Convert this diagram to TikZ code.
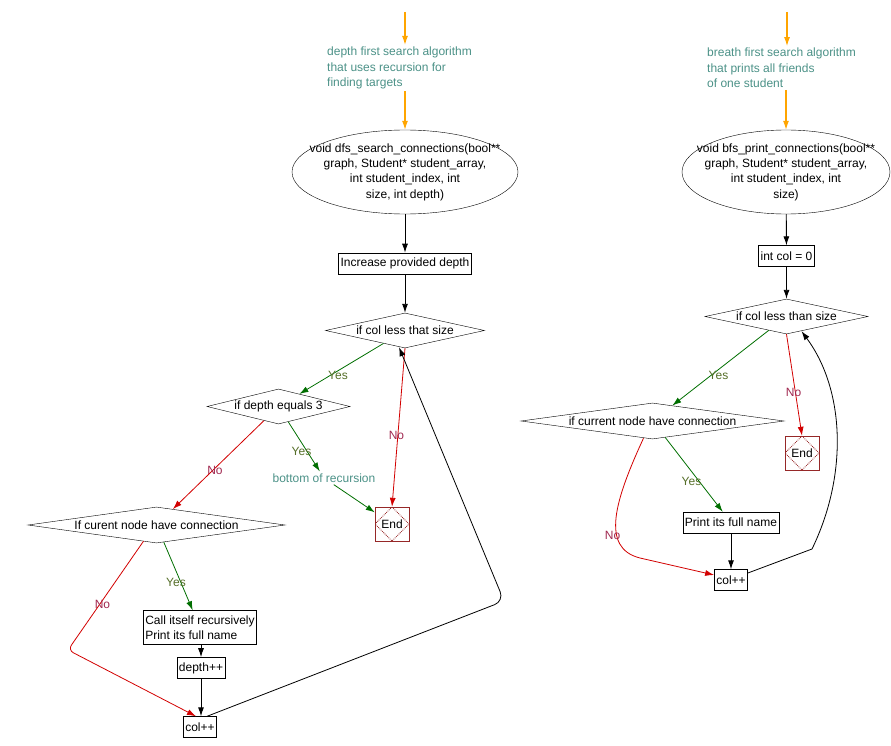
\documentclass[tikz,border=0pt]{standalone}
\usepackage{fontspec}
\setmainfont{Liberation Sans}
\usetikzlibrary{arrows.meta,shapes.geometric,positioning,calc}
\definecolor{notecol}{RGB}{75,145,135}
\definecolor{yescol}{RGB}{0,110,0}
\definecolor{yestext}{RGB}{85,110,40}
\definecolor{nocol}{RGB}{210,0,0}
\definecolor{notext}{RGB}{160,40,80}
\definecolor{endcol}{RGB}{150,40,40}
\definecolor{feedcol}{RGB}{255,165,0}

\begin{document}
\begin{tikzpicture}[x=1pt,y=-1pt,
    font=\fontsize{12}{15.3}\selectfont,
    >={Latex[length=9pt,width=6pt]},
    func/.style={draw, ellipse, align=center, inner xsep=-24pt, inner ysep=0pt,
        minimum width=226pt, minimum height=84pt},
    process/.style={draw, rectangle, inner xsep=2pt, inner ysep=5pt, minimum height=21pt},
    decision/.style={draw, diamond, inner sep=0pt},
    stopbox/.style={draw=endcol, rectangle, minimum size=34pt, inner sep=0pt,
        path picture={\draw[endcol, densely dotted, line width=0.8pt]
            (path picture bounding box.north) -- (path picture bounding box.east) --
            (path picture bounding box.south) -- (path picture bounding box.west) -- cycle;}},
    note/.style={text=notecol, align=left, inner sep=2pt},
    yeslab/.style={text=yestext, inner sep=1pt},
    nolab/.style={text=notext, inner sep=1pt},
    flow/.style={line width=0.9pt},
    feed/.style={feedcol, line width=1.1pt},
    yesline/.style={yescol, line width=0.8pt},
    noline/.style={nocol, line width=0.8pt},
    loopline/.style={black, line width=0.8pt}]

    \useasboundingbox (0,0) rectangle (891,746);

    % depth first search
    \coordinate (dfstop) at (405,12);
    \node[note, anchor=west] (dfsnote) at (325,68) {depth first search algorithm\\that uses recursion for\\finding targets};
    \node[func] (dfs) at (405,172) {void dfs\_search\_connections(bool**\\graph, Student* student\_array,\\int student\_index, int\\size, int depth)};
    \node[process] (dfsdepthup) at (405,263.5) {Increase provided depth};
    \node[decision, minimum width=159pt, minimum height=35pt, aspect=4.5] (dfscol) at (405,330.5) {if col less that size};
    \node[decision, minimum width=143pt, minimum height=35pt, aspect=4.1] (dfsdepth) at (278.5,406.5) {if depth equals 3};
    \node[note] (dfsbottom) at (324,478) {bottom of recursion};
    \node[stopbox] (dfsend) at (392,524) {End};
    \node[decision, minimum width=257pt, minimum height=36pt, aspect=7.1] (dfsconn) at (156.5,525) {If curent node have connection};
    \node[process, align=left] (dfscall) at (200,627.5) {Call itself recursively\\Print its full name};
    \node[process] (dfsdinc) at (201,668) {depth++};
    \node[process] (dfsinc) at (200,727) {col++};

    \draw[feed,->] (dfstop) -- (dfstop |- dfsnote.north);
    \draw[feed,->] (dfsnote.south -| dfs.north) -- (dfs.north);
    \draw[flow,->] (dfs) -- (dfsdepthup);
    \draw[flow,->] (dfsdepthup) -- (dfscol);
    \draw[yesline,->] (dfscol) -- (dfsdepth);
    \draw[noline,->] (dfscol.south) -- (dfsend.north);
    \draw[yesline,->] (dfsdepth) -- (dfsbottom);
    \draw[yesline,->] (dfsbottom) -- (dfsend);
    \draw[noline,->] (dfsdepth) -- (dfsconn);
    \draw[yesline,->] (dfsconn) -- (dfscall);
    \draw[noline,->,rounded corners=6pt] ($(dfsconn.south)+(-13,-2)$) -- (68,650) -- ($(dfsinc.north)+(-4,0)$);
    \draw[flow,->] (dfscall.south -| dfsdinc) -- (dfsdinc.north);
    \draw[flow,->] (dfsdinc.south) -- (dfsdinc.south |- dfsinc.north);
    \draw[loopline,->,rounded corners=10pt] ($(dfsinc.north)+(7,0)$) -- (504,601) -- ($(dfscol.south)+(-6,-1)$);

    \node[yeslab] (dfsyescol) at (338,375) {Yes};
    \node[nolab] (dfsnocol) at (396.5,435) {No};
    \node[yeslab] (dfsyesdepth) at (301.5,451.5) {Yes};
    \node[nolab] (dfsnodepth) at (215,470.5) {No};
    \node[yeslab] (dfsyesconn) at (176,582.5) {Yes};
    \node[nolab] (dfsnoconn) at (102.5,604) {No};

    % breadth first search
    \coordinate (bfstop) at (787,12);
    \node[note, anchor=west] (bfsnote) at (705,68) {breath first search algorithm\\that prints all friends\\of one student};
    \node[func, minimum width=208pt] (bfs) at (786,172) {void bfs\_print\_connections(bool**\\graph, Student* student\_array,\\int student\_index, int\\size)};
    \node[process] (bfsinit) at (786.5,256) {int col = 0};
    \node[decision, minimum width=163pt, minimum height=35pt, aspect=4.66] (bfscol) at (786.5,316.5) {if col less than size};
    \node[decision, minimum width=263pt, minimum height=36pt, aspect=7.3] (bfsconn) at (652.5,421) {if current node have connection};
    \node[stopbox] (bfsend) at (802,453) {End};
    \node[process] (bfsprint) at (731,522.5) {Print its full name};
    \node[process] (bfsinc) at (731,580) {col++};

    \draw[feed,->] (bfstop) -- (bfstop |- bfsnote.north);
    \draw[feed,->] (bfsnote.south -| bfs.north) -- (bfs.north);
    \draw[flow,->] (bfs) -- (bfsinit);
    \draw[flow,->] (bfsinit) -- (bfscol);
    \draw[yesline,->] (bfscol) -- (bfsconn);
    \draw[noline,->] (bfscol.south) -- (bfsend.north);
    \draw[yesline,->] (bfsconn) -- (bfsprint);
    \draw[noline,->] ($(bfsconn.south)+(-9,-1)$) .. controls (615,500) and (600,548) .. (640,558) -- ($(bfsinc.west)+(0,-5)$);
    \draw[flow,->] (bfsprint) -- (bfsinc);
    \draw[loopline,->] ($(bfsinc.east)+(0,-7)$) -- (812,549) .. controls (848,475) and (845,390) .. ($(bfscol.south)+(15,-3)$);

    \node[yeslab] (bfsyescol) at (718.5,375) {Yes};
    \node[nolab] (bfsnocol) at (793.5,392.5) {No};
    \node[yeslab] (bfsyesconn) at (691.5,481.5) {Yes};
    \node[nolab] (bfsnoconn) at (612.5,535) {No};
\end{tikzpicture}
\end{document}
